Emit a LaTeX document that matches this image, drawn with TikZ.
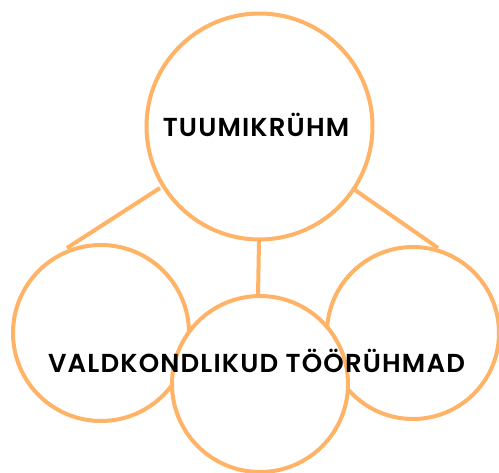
\documentclass[tikz,border=0pt]{standalone}
\usepackage{fontspec}
\setmainfont{Poppins}[BoldFont={* SemiBold},LetterSpace=4.5]
\definecolor{ring}{HTML}{FFB366}
\begin{document}
\begin{tikzpicture}[x=1pt,y=-1pt,
  ringc/.style={circle,draw=ring,line width=4pt,fill=white,inner sep=0pt},
  link/.style={draw=ring,line width=4pt},
  lbl/.style={font=\fontsize{26}{30}\selectfont\bfseries,text=black}]
\useasboundingbox (0,0) rectangle (499,473);
\begin{scope}
\clip (0,0) rectangle (499,473);
\coordinate (l1a) at (160,188);
\coordinate (l1b) at (67,248);
\coordinate (l2a) at (259,241);
\coordinate (l2b) at (258,296);
\coordinate (l3a) at (355,190);
\coordinate (l3b) at (438,248);
\draw[link] (l1a) -- (l1b);
\draw[link] (l2a) -- (l2b);
\draw[link] (l3a) -- (l3b);
\node[ringc,minimum size=226pt] (top) at (259.5,126.5) {};
\node[ringc,minimum size=176pt] (left) at (101,333) {};
\node[ringc,minimum size=172pt] (right) at (413,333) {};
\node[ringc,minimum size=176pt] (mid) at (260,384) {};
\end{scope}
\node[lbl] (t1) at (256,125) {TUUMIKRÜHM};
\node[lbl] (t2) at (256.5,361) {VALDKONDLIKUD TÖÖRÜHMAD};
\end{tikzpicture}
\end{document}
